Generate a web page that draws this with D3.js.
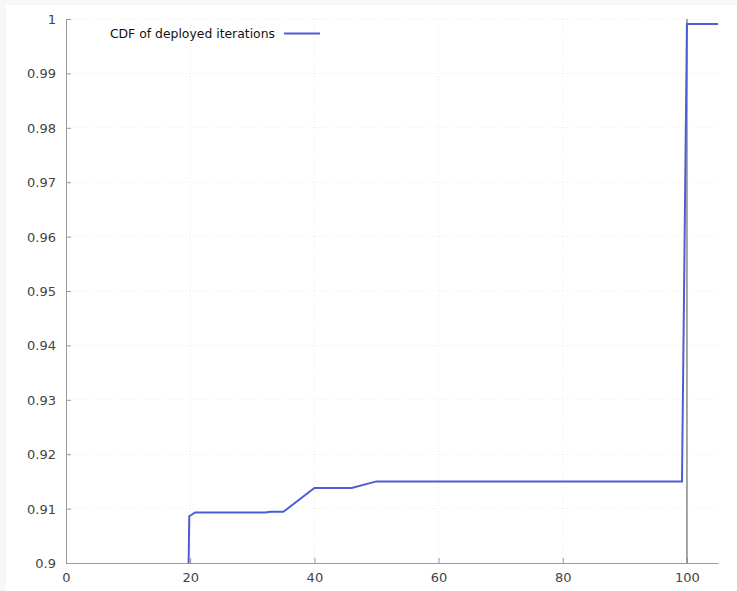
<!DOCTYPE html>
<html>
<head>
<meta charset="utf-8">
<script src="https://cdn.jsdelivr.net/npm/d3@7"></script>
<style>
  html, body { margin: 0; padding: 0; background: #f7f7f7; }
  svg { display: block; }
  text { font-family: "DejaVu Sans", sans-serif; }
</style>
</head>
<body>
<svg id="chart" width="737" height="591"></svg>
<script>
// Cumulative distribution of deployed iterations
const iterations = [19.75, 19.85, 20.8, 32, 33, 35, 40, 46, 50, 99.2, 100, 105];
const cdfValues  = [0.9, 0.9086, 0.9093, 0.9093, 0.9094, 0.9094, 0.9138, 0.9138, 0.9150, 0.9150, 0.9991, 0.9991];
const xTicks = [0, 20, 40, 60, 80, 100];
const yTicks = [0.9, 0.91, 0.92, 0.93, 0.94, 0.95, 0.96, 0.97, 0.98, 0.99, 1];
const markerX = 100;
const seriesName = "CDF of deployed iterations";

const svg = d3.select("#chart");
const W = 737, H = 591;
const m = { left: 66, top: 19, right: 19, bottom: 28 };

svg.append("rect").attr("x", 6).attr("y", 5).attr("width", W - 6).attr("height", H - 5).attr("fill", "#ffffff");

const x = d3.scaleLinear().domain([0, 105]).range([m.left, W - m.right]);
const y = d3.scaleLinear().domain([0.9, 1]).range([H - m.bottom, m.top]);

// dotted grid
const grid = svg.append("g").attr("stroke", "#ececec").attr("stroke-dasharray", "1,2").attr("stroke-width", 1);
grid.selectAll(".gx").data(xTicks.filter(d => d > 0)).join("line")
  .attr("x1", d => x(d)).attr("x2", d => x(d)).attr("y1", y(0.9)).attr("y2", y(1));
grid.selectAll(".gy").data(yTicks.filter(d => d > 0.9)).join("line")
  .attr("x1", x(0)).attr("x2", x(105)).attr("y1", d => y(d)).attr("y2", d => y(d));

// axes
const xAxis = d3.axisBottom(x).tickValues(xTicks).tickSizeInner(-5).tickSizeOuter(0).tickPadding(10).tickFormat(d3.format("d"));
const yAxis = d3.axisLeft(y).tickValues(yTicks).tickSizeInner(-5).tickSizeOuter(0).tickPadding(10).tickFormat(d => d === 1 ? "1" : d3.format(".2~f")(d));

const gx = svg.append("g").attr("transform", `translate(0,${y(0.9)})`).call(xAxis);
const gy = svg.append("g").attr("transform", `translate(${x(0)},0)`).call(yAxis);
[gx, gy].forEach(g => {
  g.select(".domain").attr("stroke", "#9a9a9a");
  g.selectAll(".tick line").attr("stroke", "#9a9a9a");
  g.selectAll(".tick text").attr("fill", "#444").style("font-size", "13px").style("font-family", "'DejaVu Sans', sans-serif");
});
gy.selectAll(".tick text").attr("dy", "0.35em");

// reference line at 100 iterations
svg.append("line")
  .attr("x1", x(markerX)).attr("x2", x(markerX))
  .attr("y1", y(0.9)).attr("y2", y(1))
  .attr("stroke", "#8a8a8a").attr("stroke-width", 1.5);

// CDF line
const line = d3.line().x((d, i) => x(iterations[i])).y(d => y(d));
svg.append("path")
  .datum(cdfValues)
  .attr("fill", "none")
  .attr("stroke", "#4c5ed6")
  .attr("stroke-width", 2)
  .attr("stroke-linejoin", "miter")
  .attr("d", line);

// legend
const lg = svg.append("g");
lg.append("text").attr("x", 275).attr("y", 38).attr("text-anchor", "end")
  .attr("fill", "#111").style("font-size", "12.4px").text(seriesName);
lg.append("line").attr("x1", 284).attr("x2", 320).attr("y1", 33.5).attr("y2", 33.5)
  .attr("stroke", "#4c5ed6").attr("stroke-width", 2);
</script>
</body>
</html>
